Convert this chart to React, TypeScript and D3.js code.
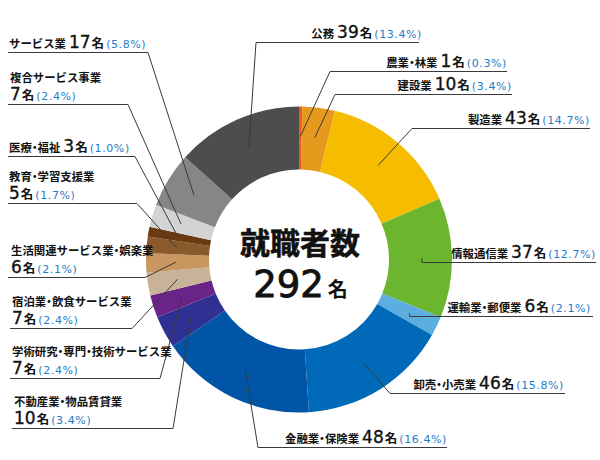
import React from 'react';
import * as d3 from 'd3';

// ---- data ----
const categories = [
  '農業・林業', '建設業', '製造業', '情報通信業', '運輸業・郵便業', '卸売・小売業',
  '金融業・保険業', '不動産業・物品賃貸業', '学術研究・専門・技術サービス業',
  '宿泊業・飲食サービス業', '生活関連サービス業・娯楽業', '教育・学習支援業',
  '医療・福祉', '複合サービス事業', 'サービス業', '公務',
];
const counts = [1, 10, 43, 37, 6, 46, 48, 10, 7, 7, 6, 5, 3, 7, 17, 39];
const colors = [
  '#ec5a24', '#e59a1e', '#f6bd00', '#6cb52e', '#5daee0', '#006ab8',
  '#0055a6', '#2e3192', '#6a2387', '#c9b398', '#c8975f', '#8b5a2b',
  '#6b3a10', '#d3d3d3', '#868686', '#4d4d4d',
];
const centerTitle = '就職者数';
const unit = '名';

// ---- label layout (annotation placement, not data) ----
type Lay = { side: 'L' | 'R'; two?: boolean; uy: number; tx: number; lx0: number | null; lx1: number };
const labelLayout: Lay[] = [
  { side: 'R', uy: 71.5, tx: 507, lx0: 330, lx1: 507 },
  { side: 'R', uy: 94.5, tx: 512, lx0: 335, lx1: 512 },
  { side: 'R', uy: 128.5, tx: 590, lx0: 412, lx1: 590 },
  { side: 'R', uy: 262.5, tx: 596, lx0: null, lx1: 596 },
  { side: 'R', uy: 316.5, tx: 591, lx0: null, lx1: 593 },
  { side: 'R', uy: 393.5, tx: 564, lx0: 390, lx1: 565 },
  { side: 'R', uy: 447.5, tx: 447, lx0: 258, lx1: 447 },
  { side: 'L', two: true, uy: 428.5, tx: 14, lx0: 12, lx1: 173 },
  { side: 'L', two: true, uy: 378.5, tx: 12, lx0: 10, lx1: 160 },
  { side: 'L', two: true, uy: 328.5, tx: 12, lx0: 10, lx1: 132 },
  { side: 'L', two: true, uy: 277.5, tx: 11, lx0: 8, lx1: 145 },
  { side: 'L', two: true, uy: 203.5, tx: 9, lx0: 8, lx1: 137 },
  { side: 'L', uy: 156.5, tx: 9, lx0: 8, lx1: 135 },
  { side: 'L', two: true, uy: 104.5, tx: 10, lx0: 8, lx1: 128 },
  { side: 'L', uy: 52.5, tx: 9, lx0: 8, lx1: 148 },
  { side: 'R', uy: 42.5, tx: 422, lx0: 256, lx1: 419 },
];

const W = 600, H = 460;
const CX = 299, CY = 259.5, R_OUT = 153, R_IN = 90, R_ANCHOR = 123;
const CJK = "'Noto Sans CJK JP', sans-serif";
const NUM = "'DejaVu Sans', sans-serif";
const PCT_COLOR = '#1f7cc8';
const LINE = '#3a3a3a';
const NAME_FS = 11.4;

// render a name; the middle dot uses the half-width alternate like the reference
function nameSpans(name: string) {
  const parts = name.split('・');
  const out: React.ReactNode[] = [];
  parts.forEach((p, k) => {
    if (k > 0) {
      out.push(<tspan key={`d${k}`} style={{ fontFeatureSettings: '"halt"' }}>・</tspan>);
    }
    out.push(<tspan key={`p${k}`}>{p}</tspan>);
  });
  return out;
}

export default function App() {
  const total = d3.sum(counts);
  const pie = d3.pie<number>().sort(null).value((d) => d).startAngle(0).endAngle(Math.PI * 2);
  const arcs = pie(counts);
  const arcGen = d3.arc<d3.PieArcDatum<number>>().innerRadius(R_IN).outerRadius(R_OUT);
  const anchorGen = d3.arc<d3.PieArcDatum<number>>().innerRadius(R_ANCHOR).outerRadius(R_ANCHOR);
  const pct = (v: number) => `(${d3.format('.1f')((v / total) * 100)}%)`;

  const countSpans = (i: number, first: boolean) => [
    <tspan key="n" fontFamily={NUM} fontSize={17} dx={first ? 0 : 3} stroke="#111" strokeWidth={0.35}>{counts[i]}</tspan>,
    <tspan key="u" fontFamily={CJK} fontWeight={700} fontSize={12.5} dx={1}>{unit}</tspan>,
    <tspan key="p" fontFamily={NUM} fontSize={11} fill={PCT_COLOR} dx={2} letterSpacing={0.6}>{pct(counts[i])}</tspan>,
  ];

  return (
    <svg width={W} height={H} style={{ position: 'absolute', left: 0, top: 0, background: '#fff' }}>
      <g transform={`translate(${CX},${CY})`}>
        {arcs.map((a, i) => (
          <path key={i} d={arcGen(a) || ''} fill={colors[i]} />
        ))}
      </g>
      {arcs.map((a, i) => {
        const L = labelLayout[i];
        const [ax0, ay0] = anchorGen.centroid(a);
        const ax = ax0 + CX, ay = ay0 + CY;
        let pts: [number, number][];
        if (L.lx0 === null) {
          pts = [[ax, ay], [ax, L.uy], [L.lx1, L.uy]];
        } else if (L.side === 'L') {
          pts = [[L.lx0, L.uy], [L.lx1, L.uy], [ax, ay]];
        } else {
          pts = [[ax, ay], [L.lx0, L.uy], [L.lx1, L.uy]];
        }
        const anchor = L.side === 'L' ? 'start' : 'end';
        return (
          <g key={`l${i}`}>
            <path d={d3.line()(pts) || ''} fill="none" stroke={LINE} strokeWidth={1} />
            {L.two ? (
              <>
                <text x={L.tx} y={L.uy - 22.5} textAnchor={anchor} fill="#111"
                  fontFamily={CJK} fontWeight={700} fontSize={NAME_FS}>{nameSpans(categories[i])}</text>
                <text x={L.tx} y={L.uy - 5} textAnchor={anchor} fill="#111">
                  {countSpans(i, true)}
                </text>
              </>
            ) : (
              <text x={L.tx} y={L.uy - 4.5} textAnchor={anchor} fill="#111">
                <tspan fontFamily={CJK} fontWeight={700} fontSize={NAME_FS}>{nameSpans(categories[i])}</tspan>
                {countSpans(i, false)}
              </text>
            )}
          </g>
        );
      })}
      <text x={300} y={254} textAnchor="middle" fontFamily={CJK} fontWeight={700} fontSize={30} fill="#111"
        stroke="#111" strokeWidth={0.5}>
        {centerTitle}
      </text>
      <text x={300.5} y={297} textAnchor="middle" fill="#111">
        <tspan fontFamily={NUM} fontSize={37} stroke="#111" strokeWidth={0.9}>{total}</tspan>
        <tspan fontFamily={CJK} fontWeight={700} fontSize={20} dx={4}>{unit}</tspan>
      </text>
    </svg>
  );
}
